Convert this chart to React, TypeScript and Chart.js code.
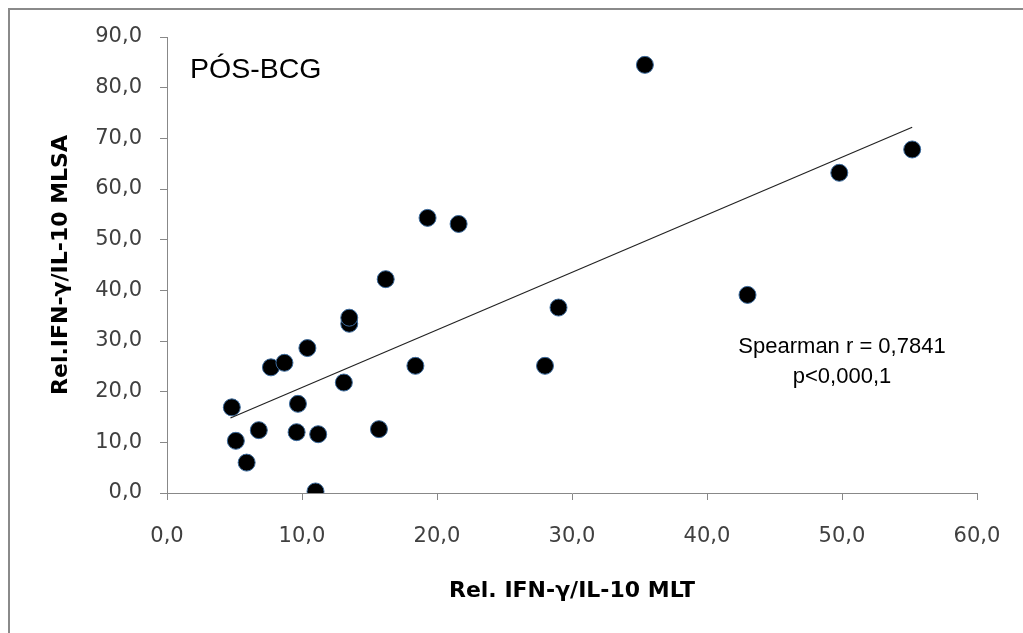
import React, { useEffect, useRef } from "react";
import { Chart, registerables } from "chart.js";

Chart.register(...registerables);

// ---- data ----
const xValues = [4.8, 5.1, 5.9, 6.8, 7.7, 8.7, 9.6, 9.7, 10.4, 11.0, 11.2, 13.1, 13.5, 13.5, 15.7, 16.2, 18.4, 19.3, 21.6, 28.0, 29.0, 35.4, 43.0, 49.8, 55.2];
const yValues = [16.9, 10.3, 6.0, 12.4, 24.8, 25.7, 12.0, 17.6, 28.6, 0.3, 11.6, 21.8, 33.4, 34.6, 12.6, 42.2, 25.1, 54.3, 53.1, 25.1, 36.6, 84.5, 39.1, 63.2, 67.8];
const trendX = [4.7, 55.2];
const trendY = [14.8, 72.2];
const xTickLabels = ["0,0", "10,0", "20,0", "30,0", "40,0", "50,0", "60,0"];
const yTickLabels = ["0,0", "10,0", "20,0", "30,0", "40,0", "50,0", "60,0", "70,0", "80,0", "90,0"];
const xTitle = "Rel. IFN-γ/IL-10 MLT";
const yTitle = "Rel.IFN-γ/IL-10 MLSA";
const panelLabel = "PÓS-BCG";
const statLines = ["Spearman r = 0,7841", "p<0,000,1"];

const textPlugin = {
  id: "annotText",
  afterDatasetsDraw(chart: any) {
    const ctx = chart.ctx;
    ctx.save();
    ctx.fillStyle = "#000";
    ctx.textBaseline = "alphabetic";
    ctx.textAlign = "left";
    ctx.font = "28.5px 'Liberation Sans', Arial, sans-serif";
    ctx.fillText(panelLabel, 180, 68);
    ctx.font = "22px 'Liberation Sans', Arial, sans-serif";
    ctx.textAlign = "center";
    ctx.fillText(statLines[0], 832, 343);
    ctx.fillText(statLines[1], 832, 373);
    ctx.restore();
  },
};

export default function App() {
  const ref = useRef<HTMLCanvasElement | null>(null);
  useEffect(() => {
    if (!ref.current) return;
    const axisColor = "#888888";
    const chart = new Chart(ref.current, {
      type: "scatter",
      data: {
        datasets: [
          {
            type: "line",
            label: "trend",
            data: trendX.map((x, i) => ({ x, y: trendY[i] })),
            borderColor: "#222",
            borderWidth: 1.2,
            pointRadius: 0,
            fill: false,
            order: 0,
          } as any,
          {
            label: "points",
            data: xValues.map((x, i) => ({ x, y: yValues[i] })),
            backgroundColor: "#000",
            borderColor: "#3b6a9c",
            borderWidth: 1,
            pointRadius: 8.5,
            order: 1,
          },
        ],
      },
      options: {
        responsive: false,
        animation: false,
        layout: { padding: { top: 27, left: 38, right: 46, bottom: 29 } },
        plugins: {
          legend: { display: false },
          tooltip: { enabled: false },
        },
        scales: {
          x: {
            type: "linear",
            min: 0,
            max: 60,
            afterFit: (axis: any) => {
              axis.height = 111;
              axis.paddingLeft = 0;
              axis.paddingRight = 0;
            },
            ticks: {
              stepSize: 10,
              padding: 24,
              color: "#404040",
              font: { family: "'DejaVu Sans', sans-serif", size: 21 },
              callback: (_v: any, i: number) => xTickLabels[i],
            },
            grid: { drawOnChartArea: false, drawTicks: true, tickLength: 7, color: axisColor },
            border: { display: true, color: axisColor, width: 1 },
            title: {
              display: true,
              text: xTitle,
              color: "#000",
              padding: 0,
              font: { family: "'DejaVu Sans', sans-serif", size: 22, weight: "bold" },
            },
          },
          y: {
            type: "linear",
            min: 0,
            max: 90,
            afterFit: (axis: any) => {
              axis.width = 119;
              axis.paddingTop = 0;
              axis.paddingBottom = 0;
            },
            ticks: {
              stepSize: 10,
              padding: 18,
              color: "#404040",
              font: { family: "'DejaVu Sans', sans-serif", size: 21 },
              callback: (_v: any, i: number) => yTickLabels[i],
            },
            grid: { drawOnChartArea: false, drawTicks: true, tickLength: 7, color: axisColor },
            border: { display: true, color: axisColor, width: 1 },
            title: {
              display: true,
              text: yTitle,
              color: "#000",
              padding: 0,
              font: { family: "'DejaVu Sans', sans-serif", size: 22, weight: "bold" },
            },
          },
        },
      },
      plugins: [textPlugin],
    });
    return () => chart.destroy();
  }, []);

  return (
    <div
      style={{
        position: "absolute",
        left: 8,
        top: 8,
        width: 1015,
        height: 625,
        boxSizing: "border-box",
        borderLeft: "2px solid #8a8a8a",
        borderTop: "2px solid #8a8a8a",
        background: "#fff",
      }}
    >
      <canvas ref={ref} width={1013} height={623} style={{ display: "block" }} />
    </div>
  );
}
